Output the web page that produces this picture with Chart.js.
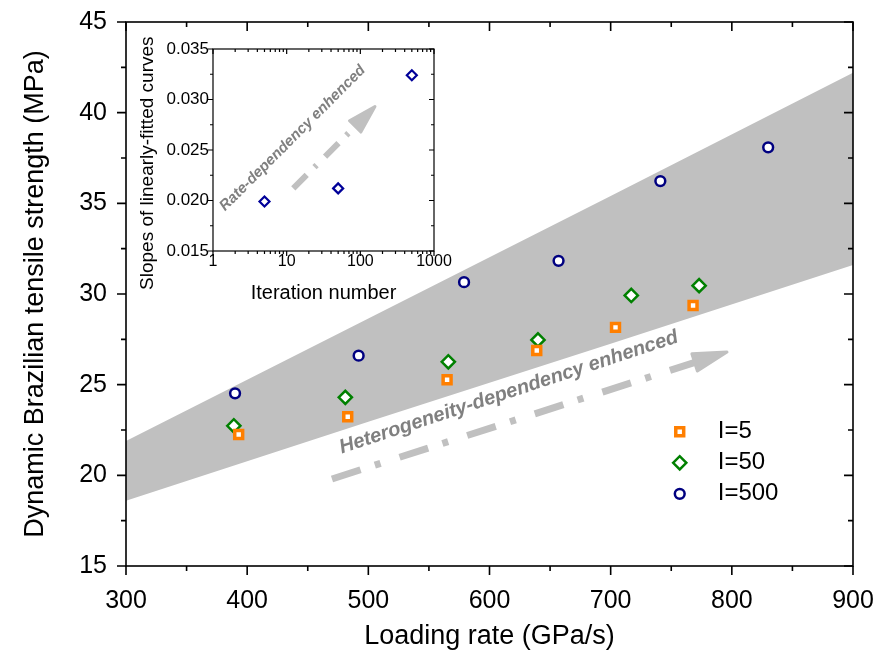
<!DOCTYPE html>
<html>
<head>
<meta charset="utf-8">
<script src="https://cdn.jsdelivr.net/npm/chart.js@4.4.1/dist/chart.umd.min.js"></script>
<style>
  html, body { margin: 0; padding: 0; background: #fff; }
  #wrap { position: relative; width: 877px; height: 655px; }
  #main { position: absolute; left: 0; top: 0; }
  #inset { position: absolute; left: 120px; top: 20px; }
</style>
</head>
<body>
<div id="wrap">
  <canvas id="main" width="877" height="655"></canvas>
  <canvas id="inset" width="340" height="300"></canvas>
</div>
<script>
// ---- data ----
const seriesNames = ['I=5', 'I=50', 'I=500'];
const rate5 = [393, 483, 565, 639, 704, 768];
const strength5 = [22.25, 23.23, 25.27, 26.88, 28.16, 29.37];
const rate50 = [389, 481, 566, 640, 717, 773];
const strength50 = [22.73, 24.3, 26.26, 27.47, 29.92, 30.46];
const rate500 = [390, 492, 579, 657, 741, 830];
const strength500 = [24.52, 26.6, 30.65, 31.83, 36.23, 38.09];

// grey band (edges read at four loading rates)
const bandRate = [300, 500, 700, 900];
const bandUpper = [21.9, 28.65, 35.4, 42.2];
const bandLower = [18.6, 22.95, 27.25, 31.6];

// inset
const iterations = [5, 50, 500];
const slopes = [0.0199, 0.0212, 0.0324];
const iterTicks = [1, 10, 100, 1000];

// annotations (data coordinates)
const heteroArrow = [[470, 19.8], [796, 26.8]];
const heteroText = [[478, 21.2], [761, 27.46]];
const rateArrow = [[12.3, 0.0212], [158, 0.0293]];
const rateText = [[1.46, 0.0189], [142.6, 0.0334]];
const legendAt = [757, 22.4];

const FONT = "'Liberation Sans', Arial, sans-serif";
Chart.defaults.font.family = FONT;
Chart.defaults.color = '#000';

const pts = (xs, ys) => xs.map((x, i) => ({ x, y: ys[i] }));

// no extra room for overhanging tick labels, layout.padding decides
const noPad = s => { s.paddingLeft = 0; s.paddingRight = 0; s.paddingTop = 0; s.paddingBottom = 0; };

// frame + major/minor ticks (left/bottom outward, top/right inward)
const frameTicks = {
  id: 'frameTicks',
  afterDatasetsDraw(chart, args, o) {
    const { ctx, chartArea: a, scales: { x, y } } = chart;
    const minorOf = (s) => {
      const major = s.ticks.map(t => t.value);
      const out = [];
      if (s.type === 'logarithmic') {
        for (let i = 0; i < major.length - 1; i++)
          for (let k = 2; k < 10; k++) out.push(major[i] * k);
      } else {
        for (let i = 0; i < major.length - 1; i++) out.push((major[i] + major[i + 1]) / 2);
      }
      return [major, out];
    };
    ctx.save();
    ctx.strokeStyle = '#000';
    ctx.lineWidth = o.lineWidth;
    ctx.strokeRect(a.left, a.top, a.right - a.left, a.bottom - a.top);
    ctx.beginPath();
    const [xMaj, xMin] = minorOf(x);
    const [yMaj, yMin] = minorOf(y);
    const xt = (v, len) => {
      const p = x.getPixelForValue(v);
      ctx.moveTo(p, a.bottom); ctx.lineTo(p, a.bottom + len);
      ctx.moveTo(p, a.top); ctx.lineTo(p, a.top + len);
    };
    const yt = (v, len) => {
      const p = y.getPixelForValue(v);
      ctx.moveTo(a.left - len, p); ctx.lineTo(a.left, p);
      ctx.moveTo(a.right - len, p); ctx.lineTo(a.right, p);
    };
    xMaj.forEach(v => xt(v, o.major)); xMin.forEach(v => xt(v, o.minor));
    yMaj.forEach(v => yt(v, o.major)); yMin.forEach(v => yt(v, o.minor));
    ctx.stroke();
    ctx.restore();
  }
};

function drawArrow(ctx, x0, y0, x1, y1, o) {
  const ang = Math.atan2(y1 - y0, x1 - x0);
  const len = Math.hypot(x1 - x0, y1 - y0);
  ctx.save();
  ctx.translate(x0, y0);
  ctx.rotate(ang);
  ctx.strokeStyle = o.color;
  ctx.fillStyle = o.color;
  ctx.lineWidth = o.width;
  ctx.setLineDash(o.dash);
  ctx.beginPath();
  ctx.moveTo(0, 0);
  ctx.lineTo(len - o.headLen + 2, 0);
  ctx.stroke();
  ctx.setLineDash([]);
  ctx.lineJoin = 'round';
  ctx.lineWidth = 3;
  ctx.beginPath();
  ctx.moveTo(len, 0);
  ctx.lineTo(len - o.headLen, -o.headW);
  ctx.lineTo(len - o.headLen, o.headW);
  ctx.closePath();
  ctx.fill();
  ctx.stroke();
  ctx.restore();
}

// dash-dot arrow plus rotated caption
const notes = {
  id: 'notes',
  afterDatasetsDraw(chart, args, o) {
    const { ctx, scales: { x, y } } = chart;
    const px = p => [x.getPixelForValue(p[0]), y.getPixelForValue(p[1])];
    const [a0, a1] = o.arrow.map(px);
    drawArrow(ctx, a0[0], a0[1], a1[0], a1[1], o.style);
    const [t0, t1] = o.textLine.map(px);
    ctx.save();
    ctx.translate(t0[0], t0[1]);
    ctx.rotate(Math.atan2(t1[1] - t0[1], t1[0] - t0[0]));
    ctx.font = o.font;
    ctx.fillStyle = '#808080';
    ctx.textBaseline = 'alphabetic';
    ctx.fillText(o.text, 0, 0);
    ctx.restore();
  }
};

// legend inside plot area, markers taken from the datasets
const legendInside = {
  id: 'legendInside',
  afterDatasetsDraw(chart, args, o) {
    const { ctx, scales: { x, y } } = chart;
    const x0 = x.getPixelForValue(o.at[0]);
    const y0 = y.getPixelForValue(o.at[1]);
    chart.data.datasets.filter(d => d.label).forEach((d, i) => {
      const py = y0 + i * o.rowGap;
      ctx.save();
      ctx.fillStyle = d.pointBackgroundColor;
      ctx.strokeStyle = d.pointBorderColor;
      ctx.lineWidth = d.pointBorderWidth;
      Chart.helpers.drawPoint(ctx, {
        pointStyle: d.pointStyle, radius: d.pointRadius, rotation: 0, borderWidth: d.pointBorderWidth
      }, x0, py);
      ctx.fillStyle = '#000';
      ctx.font = o.font;
      ctx.textBaseline = 'middle';
      ctx.textAlign = 'left';
      ctx.fillText(d.label, x0 + o.textGap, py);
      ctx.restore();
    });
  }
};

const marker = (label, style, color, radius, bw, xs, ys) => ({
  label, data: pts(xs, ys), pointStyle: style, pointRadius: radius,
  pointBorderWidth: bw, pointBorderColor: color, pointBackgroundColor: '#fff', order: 0
});

// ---- main chart ----
new Chart(document.getElementById('main'), {
  type: 'scatter',
  data: {
    datasets: [
      { data: pts(bandRate, bandUpper), showLine: true, fill: '+1', backgroundColor: '#c0c0c0',
        borderWidth: 0, pointRadius: 0, order: 10 },
      { data: pts(bandRate, bandLower), showLine: true, fill: false,
        borderWidth: 0, pointRadius: 0, order: 10 },
      marker(seriesNames[0], 'rect', '#ff7f00', 5.6, 3.5, rate5, strength5),
      marker(seriesNames[1], 'rectRot', '#008000', 6.6, 2.5, rate50, strength50),
      marker(seriesNames[2], 'circle', '#000080', 4.9, 2.5, rate500, strength500)
    ]
  },
  options: {
    responsive: false,
    animation: false,
    events: [],
    layout: { padding: { left: 0, right: 24, top: 22, bottom: 0 } },
    scales: {
      x: {
        min: 300, max: 900,
        grid: { display: false, drawTicks: false },
        border: { display: false },
        ticks: { stepSize: 100, padding: 20, font: { size: 25 } },
        title: { display: true, text: 'Loading rate (GPa/s)', font: { size: 27, lineHeight: 1 },
                 padding: { top: 0, bottom: 5 } },
        afterFit: s => { noPad(s); s.height = 89; }
      },
      y: {
        min: 15, max: 45,
        grid: { display: false, drawTicks: false },
        border: { display: false },
        ticks: { stepSize: 5, padding: 19, font: { size: 25 } },
        title: { display: true, text: 'Dynamic Brazilian tensile strength (MPa)',
                 font: { size: 27, lineHeight: 1 }, padding: { top: 22, bottom: 0 } },
        afterFit: s => { noPad(s); s.width = 126; }
      }
    },
    plugins: {
      legend: { display: false },
      tooltip: { enabled: false },
      frameTicks: { lineWidth: 1.6, major: 9, minor: 5 },
      notes: {
        arrow: heteroArrow, textLine: heteroText,
        text: 'Heterogeneity-dependency enhenced',
        font: `italic bold 20px ${FONT}`,
        style: { color: '#c0c0c0', width: 7, dash: [30, 15, 6, 20], headLen: 34, headW: 9 }
      },
      legendInside: { at: legendAt, rowGap: 31, textGap: 38, font: `24px ${FONT}` }
    }
  },
  plugins: [frameTicks, notes, legendInside]
});

// ---- inset chart ----
new Chart(document.getElementById('inset'), {
  type: 'scatter',
  data: {
    datasets: [
      { data: pts(iterations, slopes), pointStyle: 'rectRot', pointRadius: 5, pointBorderWidth: 2.2,
        pointBorderColor: '#000099', pointBackgroundColor: '#fff' }
    ]
  },
  options: {
    responsive: false,
    animation: false,
    events: [],
    layout: { padding: { left: 0, right: 26, top: 29, bottom: 0 } },
    scales: {
      x: {
        type: 'logarithmic', min: 1, max: 1000,
        grid: { display: false, drawTicks: false },
        border: { display: false },
        afterBuildTicks: s => { s.ticks = iterTicks.map(v => ({ value: v })); },
        ticks: { padding: 1, font: { size: 16 }, callback: v => String(v) },
        title: { display: true, text: 'Iteration number', font: { size: 20, lineHeight: 1 },
                 padding: { top: 0, bottom: 17 } },
        afterFit: s => { noPad(s); s.height = 69; }
      },
      y: {
        min: 0.015, max: 0.035,
        grid: { display: false, drawTicks: false },
        border: { display: false },
        ticks: { stepSize: 0.005, padding: 4, font: { size: 17 }, callback: v => v.toFixed(3) },
        // trailing spaces push the rotated title a little lower, as in the original
        title: { display: true, text: 'Slopes of linearly-fitted curves     ', font: { size: 19, lineHeight: 1 },
                 padding: { top: 18.5, bottom: 0 } },
        afterFit: s => { noPad(s); s.width = 93; }
      }
    },
    plugins: {
      legend: { display: false },
      tooltip: { enabled: false },
      frameTicks: { lineWidth: 1.2, major: 5, minor: 3 },
      notes: {
        arrow: rateArrow, textLine: rateText,
        text: 'Rate-dependency enhenced',
        font: `italic bold 15px ${FONT}`,
        style: { color: '#c0c0c0', width: 6, dash: [19, 11, 3, 12], headLen: 28, headW: 8 }
      }
    }
  },
  plugins: [frameTicks, notes]
});
</script>
</body>
</html>
